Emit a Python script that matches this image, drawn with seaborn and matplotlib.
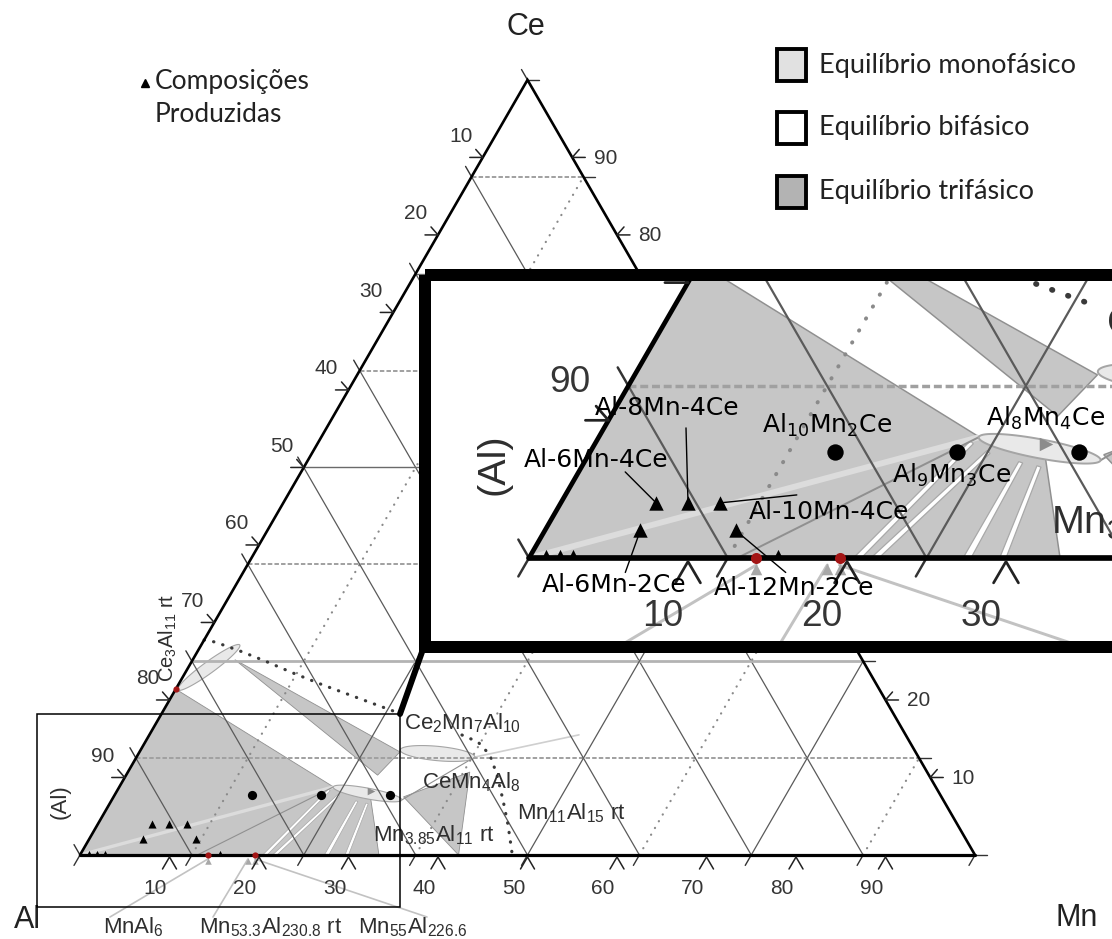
import numpy as np
import pandas as pd
import matplotlib
matplotlib.use("Agg")
import matplotlib.pyplot as plt
import matplotlib.transforms as mtransforms
from matplotlib.patches import Polygon, Rectangle
from matplotlib.lines import Line2D
import seaborn as sns

sns.set_theme(style="white")
plt.rcParams["font.family"] = ["Liberation Sans", "DejaVu Sans"]
plt.rcParams["mathtext.default"] = "regular"

# ---------------------------------------------------------------- data
tick_values = [10, 20, 30, 40, 50, 60, 70, 80, 90]
grid_values = [12.5, 25.0, 37.5, 50.0, 62.5, 75.0, 87.5]
edge_values = [0.0, 12.5, 25.0, 37.5, 50.0, 62.5, 75.0, 87.5, 100.0]

# produced alloys (at.%)
alloy_names = ["Al-6Mn-4Ce", "Al-8Mn-4Ce", "Al-10Mn-4Ce", "Al-6Mn-2Ce", "Al-12Mn-2Ce"]
alloy_mn = [6, 8, 10, 6, 12]
alloy_ce = [4, 4, 4, 2, 2]

# ternary compounds AlxMnyCe
compound_labels = [r"Al$_{10}$Mn$_{2}$Ce", r"Al$_{9}$Mn$_{3}$Ce", r"Al$_{8}$Mn$_{4}$Ce"]
compound_al = [10, 9, 8]
compound_mn = [2, 3, 4]
compound_ce = [1, 1, 1]

# binary compounds marked on the edges (Mn at.%, Ce at.%)
edge_compound_mn = [0.0, 14.29, 19.53]
edge_compound_ce = [21.43, 0.0, 0.0]

# small markers sitting on the Al-Mn edge
edge_marker_mn = [0.9, 1.8, 2.6, 15.5]
edge_marker_ce = [0.3, 0.3, 0.3, 0.3]

# three-phase fields, vertices as (Mn, Ce) at.%
field3_al_ce3al11_tau = [(0, 0), (0, 21.4), (23.9, 8.8)]
field3_al_tau_mnal = [(0, 0), (23.9, 8.8), (28.7, 7.5), (33.4, 0)]
field3_ce3al11_band = [(4.7, 25.2), (29.1, 13.3), (28.1, 10.3)]
field3_mn11al15 = [(32.4, 7.5), (38.2, 10.7), (42.3, 0)]
three_phase_fields = [field3_al_ce3al11_tau, field3_al_tau_mnal,
                      field3_ce3al11_band, field3_mn11al15]

# narrow two-phase tie-line bundles, (Mn, Ce)
streak_1 = [(23.5, 8.5), (23.8, 8.3), (20.9, 0), (20.4, 0)]
streak_2 = [(24.9, 7.8), (25.2, 7.6), (22.0, 0), (21.5, 0)]
streak_3 = [(27.3, 7.0), (27.6, 6.9), (27.8, 0), (27.3, 0)]
streak_4 = [(28.6, 6.7), (28.9, 6.6), (30.0, 0), (29.6, 0)]
two_phase_streaks = [streak_1, streak_2, streak_3, streak_4]

# single-phase fields: end compositions (Mn, Ce) and half width (at.%)
phase1_ce3al11 = [(0.3, 21.3), (4.3, 27.1), 0.65]
phase1_cemn4al8 = [(23.9, 8.77), (32.4, 7.10), 0.6]
phase1_ce2mn7al10 = [(29.0, 13.55), (37.8, 12.64), 0.8]
single_phase_fields = [phase1_ce3al11, phase1_cemn4al8, phase1_ce2mn7al10]

# phase boundaries (Mn, Ce)
al_tau_band = [(0, 0), (23.9, 8.77)]
boundary_lines = [[(13.1, 0), (23.9, 8.77)],
                  [(32.4, 7.1), (37.8, 12.64)]]
faint_lines = [[(37.8, 12.64), (48.0, 15.5)]]

# dotted valley curves (Mn, Ce)
valley_1_mn = [0.0, 1.34, 4.72, 8.16, 12.06, 16.19, 19.85, 23.51, 26.08]
valley_1_ce = [27.74, 27.48, 26.32, 25.03, 23.48, 21.93, 20.64, 19.35, 18.45]
valley_2_mn = [34.94, 37.18, 39.36, 41.43, 43.71, 45.89, 48.14]
valley_2_ce = [15.48, 14.58, 12.90, 10.32, 7.10, 3.87, 0.26]

# tie arrow inside the CeMn4Al8 field
tie_arrow_mn, tie_arrow_ce = [28.4], [8.26]

# Al-Mn compounds with leader lines from their labels
leader_mn = [14.29, 18.76, 19.53]

legend_labels = ["Equilíbrio monofásico", "Equilíbrio bifásico", "Equilíbrio trifásico"]
legend_colors = ["#e1e1e1", "#ffffff", "#b3b3b3"]

# ---------------------------------------------------------------- geometry
W, H = 1112, 939
SQ3 = np.sqrt(3.0) / 2.0
MAIN_PX = 8.95          # screen pixels per at.% in the main view
AL_CORNER = (80.0, 855.0)
INSET_PX = 15.9         # screen pixels per at.% in the magnified view
INSET_AL = (529.0, 558.0)
INSET_BOX = (419, 267, W, 653)   # screen area taken by the framed magnified view
U = 1.0 / MAIN_PX       # one main-view pixel in composition units

C3 = "#c6c6c6"
C1 = "#e9e9e9"


def cart(mn, ce):
    mn = np.asarray(mn, dtype=float)
    ce = np.asarray(ce, dtype=float)
    return mn + 0.5 * ce, ce * SQ3


def cart_poly(pts):
    a = np.asarray(pts, dtype=float)
    x, y = cart(a[:, 0], a[:, 1])
    return np.column_stack([x, y])


def P(px, py):
    return (px - AL_CORNER[0]) / MAIN_PX, (AL_CORNER[1] - py) / MAIN_PX


def P_inv(x, y):
    return AL_CORNER[0] + x * MAIN_PX, AL_CORNER[1] - y * MAIN_PX


def Q(ix, iy):
    return (ix - INSET_AL[0]) / INSET_PX, (INSET_AL[1] - iy) / INSET_PX


def ellipse_pts(c1, c2, hw, n=80):
    x1, y1 = cart(*c1)
    x2, y2 = cart(*c2)
    cx, cy = (x1 + x2) / 2, (y1 + y2) / 2
    a = np.hypot(x2 - x1, y2 - y1) / 2
    ang = np.arctan2(y2 - y1, x2 - x1)
    t = np.linspace(0, 2 * np.pi, n)
    ex, ey = a * np.cos(t), hw * np.sin(t)
    return np.column_stack([cx + ex * np.cos(ang) - ey * np.sin(ang),
                            cy + ex * np.sin(ang) + ey * np.cos(ang)])


alloys = pd.DataFrame({"name": alloy_names, "Mn": alloy_mn, "Ce": alloy_ce})
alloys["X"], alloys["Y"] = cart(alloys["Mn"], alloys["Ce"])

tot = np.array(compound_al) + np.array(compound_mn) + np.array(compound_ce)
compounds = pd.DataFrame({"label": compound_labels,
                          "Mn": 100.0 * np.array(compound_mn) / tot,
                          "Ce": 100.0 * np.array(compound_ce) / tot})
compounds["X"], compounds["Y"] = cart(compounds["Mn"], compounds["Ce"])

edge_cmp = pd.DataFrame({"Mn": edge_compound_mn, "Ce": edge_compound_ce})
edge_cmp["X"], edge_cmp["Y"] = cart(edge_cmp["Mn"], edge_cmp["Ce"])
edge_mk = pd.DataFrame({"Mn": edge_marker_mn, "Ce": edge_marker_ce})
edge_mk["X"], edge_mk["Y"] = cart(edge_mk["Mn"], edge_mk["Ce"])

FORMULA_FONT = ["Liberation Sans", "DejaVu Sans"]


def put_text(ax, clip, x, y, txt, reach=(0.0, 0.0), **kw):
    """Text in data coordinates.  In the clipped (magnified) view it is only
    placed when part of it can fall inside the limits; in the main view it is
    skipped where the framed magnified view covers it."""
    if clip:
        x0, x1 = ax.get_xlim()
        y0, y1 = ax.get_ylim()
        if not (x0 - reach[0] < x < x1 + reach[0] and y0 - reach[1] < y < y1 + reach[1]):
            return
    else:
        px, py = P_inv(x, y)
        bx0, by0, bx1, by1 = INSET_BOX
        if bx0 < px < bx1 and by0 < py < by1:
            return
    ax.text(x, y, txt, clip_on=clip, **kw)


def draw_diagram(ax, s, clip):
    # phase fields
    for f in three_phase_fields:
        ax.add_patch(Polygon(cart_poly(f), closed=True, facecolor=C3,
                             edgecolor="#909090", linewidth=0.6 * s, zorder=1))
    for f in two_phase_streaks:
        ax.add_patch(Polygon(cart_poly(f), closed=True, facecolor="white",
                             edgecolor="#a8a8a8", linewidth=0.5 * s, zorder=1.2))
    x, y = cart(*zip(*al_tau_band))
    ax.plot(x, y, color="#dcdcdc", lw=2.4 * s, zorder=1.3, solid_capstyle="butt")
    for seg in boundary_lines:
        x, y = cart(*zip(*seg))
        ax.plot(x, y, color="#909090", lw=0.8 * s, zorder=1.4)
    for seg in faint_lines:
        x, y = cart(*zip(*seg))
        ax.plot(x, y, color="#cfcfcf", lw=1.2 * s, zorder=1.4)
    for c1, c2, hw in single_phase_fields:
        ax.add_patch(Polygon(ellipse_pts(c1, c2, hw), closed=True, facecolor=C1,
                             edgecolor="#a5a5a5", linewidth=0.8 * s, zorder=1.5))

    # composition grid
    for v in grid_values:
        x, y = cart([0, 100 - v], [100 - v, 0])
        ax.plot(x, y, color="#5a5a5a", lw=0.9 * s, zorder=2)
        x, y = cart([v, v], [0, 100 - v])
        if v % 25 == 0:
            ax.plot(x, y, color="#5a5a5a", lw=0.9 * s, zorder=2)
        else:
            ax.plot(x, y, color="#8a8a8a", lw=1.6 * s, ls=(0, (0.1, 3.4)),
                    dash_capstyle="round", zorder=2)
        x, y = cart([0, 100 - v], [v, v])
        if v == 25:
            ax.plot(x, y, color="#b3b3b3", lw=2.0 * s, zorder=2)
        elif v % 25 == 0:
            ax.plot(x, y, color="#6a6a6a", lw=1.0 * s, zorder=2)
        else:
            ax.plot(x, y, color="#a0a0a0", lw=1.4 * s, ls=(0, (2.3, 1.1)), zorder=2)

    # grid lines continued a little past the edges
    L = 12 * U
    for v in edge_values:
        x0, y0 = cart(0, 100 - v)
        ax.plot([x0, x0 - 0.5 * L], [y0, y0 + SQ3 * L], color="#333333", lw=1.0 * s, zorder=4)
        x0, y0 = cart(v, 0)
        ax.plot([x0, x0 - 0.5 * L], [y0, y0 - SQ3 * L], color="#333333", lw=1.0 * s, zorder=4)
        x0, y0 = cart(100 - v, v)
        ax.plot([x0, x0 + L], [y0, y0], color="#333333", lw=1.0 * s, zorder=4)

    # dotted valleys
    for mn, ce in ((valley_1_mn, valley_1_ce), (valley_2_mn, valley_2_ce)):
        x, y = cart(mn, ce)
        ax.plot(x, y, color="#3a3a3a", lw=2.3 * s, ls=(0, (0.1, 2.9)),
                dash_capstyle="round", zorder=3)

    # triangle edges
    x, y = cart([0, 0, 100], [0, 100, 0])
    ax.plot([x[0], x[1], x[2]], [y[0], y[1], y[2]], color="black", lw=1.9 * s,
            zorder=4, solid_joinstyle="miter")
    ax.plot([x[0], x[2]], [y[0], y[2]], color="black", lw=2.3 * s, zorder=4)

    # ticks and tick labels
    tk = dict(color="#222222", lw=1.1 * s, zorder=4)
    tl = dict(ha="center", va="center", fontsize=15 * s, color="#353535", zorder=7)
    r_tick = (14 * U, 10 * U)
    for t in tick_values:
        x0, y0 = cart(0, 100 - t)
        ax.plot([x0 - 13 * U, x0, x0 - 7 * U], [y0, y0, y0 + 8 * U], **tk)
        put_text(ax, clip, x0 - 22 * U, y0 + 21 * U, str(t), r_tick, **tl)
        x0, y0 = cart(t, 0)
        ax.plot([x0 - 7 * U, x0, x0 + 7 * U], [y0 - 14 * U, y0 - 2 * U, y0 - 14 * U], **tk)
        put_text(ax, clip, x0 - 14 * U, y0 - 33 * U, str(t), r_tick, **tl)
        x0, y0 = cart(100 - t, t)
        ax.plot([x0 + 13 * U, x0, x0 + 7 * U], [y0, y0, y0 + 8 * U], **tk)
        put_text(ax, clip, x0 + 33 * U, y0 - 1 * U, str(t), r_tick, **tl)

    # phase labels: text, centre in main-view pixels, size, rotation, half extent
    fl = dict(ha="center", va="center", color="#2e2e2e", zorder=7, family=FORMULA_FONT)
    phase_text = [
        (r"Ce$_{2}$Mn$_{7}$Al$_{10}$", 463, 723, 16, 0, (60, 12)),
        (r"CeMn$_{4}$Al$_{8}$", 471, 782, 16, 0, (52, 12)),
        (r"Mn$_{11}$Al$_{15}$ rt", 571, 813, 16, 0, (52, 12)),
        (r"Mn$_{3.85}$Al$_{11}$ rt", 434, 835, 16, 0, (60, 12)),
        (r"Ce$_{3}$Al$_{11}$ rt", 168, 638, 14.5, 90, (10, 48)),
        ("(Al)", 60, 802, 16, 90, (10, 22)),
        (r"MnAl$_{6}$", 133, 927, 16, 0, (35, 12)),
        (r"Mn$_{53.3}$Al$_{230.8}$ rt", 271, 927, 16, 0, (70, 12)),
        (r"Mn$_{55}$Al$_{226.6}$", 413, 927, 16, 0, (52, 12)),
    ]
    for txt, px, py, fs, rot, (rx, ry) in phase_text:
        put_text(ax, clip, *P(px, py), txt, (rx * U, ry * U),
                 fontsize=fs * s, rotation=rot, **fl)

    # leaders from the Al-Mn compound labels to the edge
    starts = [P(110, 917), P(213, 917), P(427, 917)]
    for (sx, sy), mn in zip(starts, leader_mn):
        tx, ty = cart(mn, 0)
        ax.plot([sx, tx], [sy, ty - 4 * U], color="#c2c2c2", lw=1.2 * s, zorder=3)
        ax.scatter([tx], [ty - 6 * U], marker="^", s=22 * s * s, color="#a8a8a8",
                   linewidths=0, zorder=3)

    # markers
    sns.scatterplot(data=edge_cmp, x="X", y="Y", ax=ax, color="#a31515", s=20 * s * s,
                    linewidth=0, legend=False, zorder=5)
    sns.scatterplot(data=edge_mk, x="X", y="Y", ax=ax, color="black", marker="^",
                    s=14 * s * s, linewidth=0, legend=False, zorder=5)
    tx, ty = cart(tie_arrow_mn, tie_arrow_ce)
    ax.scatter(tx, ty, marker=">", s=30 * s * s, color="#8c8c8c", linewidths=0, zorder=2.5)
    sns.scatterplot(data=alloys, x="X", y="Y", ax=ax, color="black", marker="^",
                    s=34 * s * s, linewidth=0, legend=False, zorder=6)
    sns.scatterplot(data=compounds, x="X", y="Y", ax=ax, color="black", marker="o",
                    s=44 * s * s, linewidth=0, legend=False, zorder=6)


# ---------------------------------------------------------------- figure
fig = plt.figure(figsize=(W / 100, H / 100), dpi=100)
fig.patch.set_facecolor("white")
pix = mtransforms.Affine2D().scale(1.0 / W, -1.0 / H).translate(0, 1) + fig.transFigure

ax = fig.add_axes([0, 0, 1, 1])
ax.set_xlim(P(0, 0)[0], P(W, 0)[0])
ax.set_ylim(P(0, H)[1], P(0, 0)[1])
ax.set_axis_off()
draw_diagram(ax, 1.0, False)

# magnified view of the Al corner
ix0, iy0, ix1, iy1 = 431, 281, W, 641
axin = fig.add_axes([ix0 / W, 1 - iy1 / H, (ix1 - ix0) / W, (iy1 - iy0) / H])
axin.set_xlim(Q(ix0, 0)[0], Q(ix1, 0)[0])
axin.set_ylim(Q(0, iy1)[1], Q(0, iy0)[1])
axin.set_xticks([])
axin.set_yticks([])
for sp in axin.spines.values():
    sp.set_visible(False)
axin.set_facecolor("white")
s_in = INSET_PX / MAIN_PX
draw_diagram(axin, s_in, True)

# labelled compositions in the magnified view (offsets in screen pixels)
V = 1.0 / INSET_PX
lab_kw = dict(ha="center", va="center", fontsize=18, color="black",
              family=["DejaVu Sans"], clip_on=True, zorder=8)
alloy_label_off = [(-60, -43), (-21, -95), (109, 9), (-26, 55), (58, 58)]
alloy_leader_end = [(-31, -31), (-2, -75), (77, -8), (-15, 42), (50, 42)]
for (_, row), (lx, ly), (ex, ey) in zip(alloys.iterrows(), alloy_label_off, alloy_leader_end):
    axin.plot([row.X, row.X + ex * V], [row.Y, row.Y - ey * V], color="black",
              lw=1.0, zorder=5.5)
    axin.text(row.X + lx * V, row.Y - ly * V, row["name"], **lab_kw)
compound_label_off = [(-8, -27), (-6, 23), (-34, -34)]
for (_, row), (lx, ly) in zip(compounds.iterrows(), compound_label_off):
    axin.text(row.X + lx * V, row.Y - ly * V, row["label"], **lab_kw)

# frame of the magnified view, its source box and the link between them
fig.add_artist(Rectangle((425, 275), 720, 372, fill=False, edgecolor="black",
                         linewidth=12 * 0.72, transform=pix, zorder=10))
fig.add_artist(Rectangle((37, 714), 363, 193, fill=False, edgecolor="black",
                         linewidth=1.1, transform=pix, zorder=10))
fig.add_artist(Line2D([400, 422], [714, 652], color="black", linewidth=4.3,
                      solid_capstyle="round", transform=pix, zorder=10))

# vertex labels
for txt, px, py in (("Ce", 526, 27), ("Al", 27, 920), ("Mn", 1077, 918)):
    fig.text(px, py, txt, transform=pix, ha="center", va="center", fontsize=22,
             color="#222222", family=FORMULA_FONT)

# legends
LEG_FONT = ["Lato", "DejaVu Sans"]
fig.add_artist(Line2D([145], [83], marker="^", markersize=6, color="black",
                      linestyle="none", transform=pix, zorder=10))
fig.text(155, 82, "Composições", transform=pix, ha="left", va="center",
         fontsize=19, color="#222222", family=LEG_FONT)
fig.text(155, 115, "Produzidas", transform=pix, ha="left", va="center",
         fontsize=19, color="#222222", family=LEG_FONT)
for i, (lab, col) in enumerate(zip(legend_labels, legend_colors)):
    yc = [65, 128, 192][i]
    fig.add_artist(Rectangle((777, yc - 16), 29, 32, facecolor=col, edgecolor="black",
                             linewidth=2.8, transform=pix, zorder=10))
    fig.text(819, yc, lab, transform=pix, ha="left", va="center", fontsize=19.5,
             color="#222222", family=LEG_FONT)

fig.savefig("out.png", dpi=100, facecolor="white")
